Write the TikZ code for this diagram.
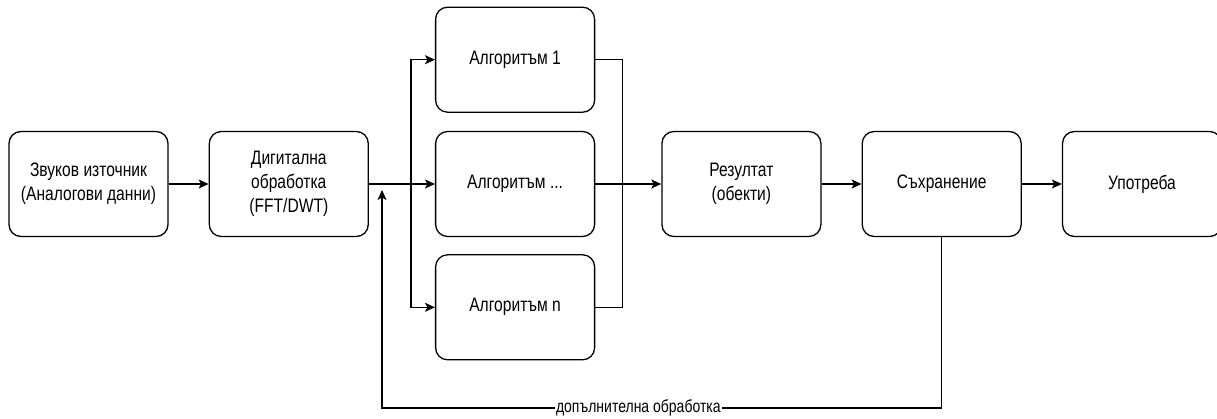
\documentclass[tikz,border=0pt]{standalone}
\usepackage{fontspec}
\setmainfont{Liberation Sans}[FakeStretch=0.8]
\usetikzlibrary{positioning,arrows.meta}
\tikzset{
  % boxes of the processing chain and the lines between them
  process node/.style={rectangle,draw,rounded corners=12pt,line width=1.3pt,
    minimum width=159pt,minimum height=105pt,align=center,inner sep=2pt,
    font=\fontsize{19.5}{24}\selectfont},
  flow line/.style={draw,line width=1.3pt,-{Stealth[length=10pt,width=9pt,inset=2.5pt]}},
  plain line/.style={draw,line width=1.3pt},
  edge label/.style={fill=white,inner sep=1pt,font=\fontsize{17.5}{20}\selectfont}
}

\begin{document}
\begin{tikzpicture}[x=1pt,y=-1pt]
\useasboundingbox (0,0) rectangle (1217,419);

\node[process node] (source) at (88.5,184) {Звуков източник\\(Аналогови данни)};
\node[process node,right=40pt of source] (digital) {Дигитална\\обработка\\(FFT/DWT)};
\node[process node,right=66pt of digital] (algmid) {Алгоритъм ...};
\node[process node,above=18pt of algmid] (algone) {Алгоритъм 1};
\node[process node,below=17pt of algmid] (algn) {Алгоритъм n};
\node[process node,right=66pt of algmid] (result) {Резултат\\(обекти)};
\node[process node,right=40pt of result] (storage) {Съхранение};
\node[process node,right=40pt of storage] (usage) {Употреба};

\coordinate[right=42pt of digital] (split);
\coordinate[right=27pt of algmid] (merge);
\coordinate (fbend) at (382,190);
\coordinate (fbbottom) at (0,408);

\draw[flow line] (source) -- (digital);
\draw[plain line] (digital) -- (split);
\draw[flow line] (split) |- (algone);
\draw[flow line] (split) -- (algmid);
\draw[flow line] (split) |- (algn);
\draw[plain line] (algone) -| (merge);
\draw[plain line] (algn) -| (merge);
\draw[flow line] (algmid) -- (result);
\draw[flow line] (result) -- (storage);
\draw[flow line] (storage) -- (usage);

% feedback loop
\draw[flow line] (storage.south) -- (storage.south |- fbbottom)
  -- node[edge label,pos=0.542] {допълнителна обработка} (fbend |- fbbottom) -- (fbend);
\end{tikzpicture}
\end{document}
